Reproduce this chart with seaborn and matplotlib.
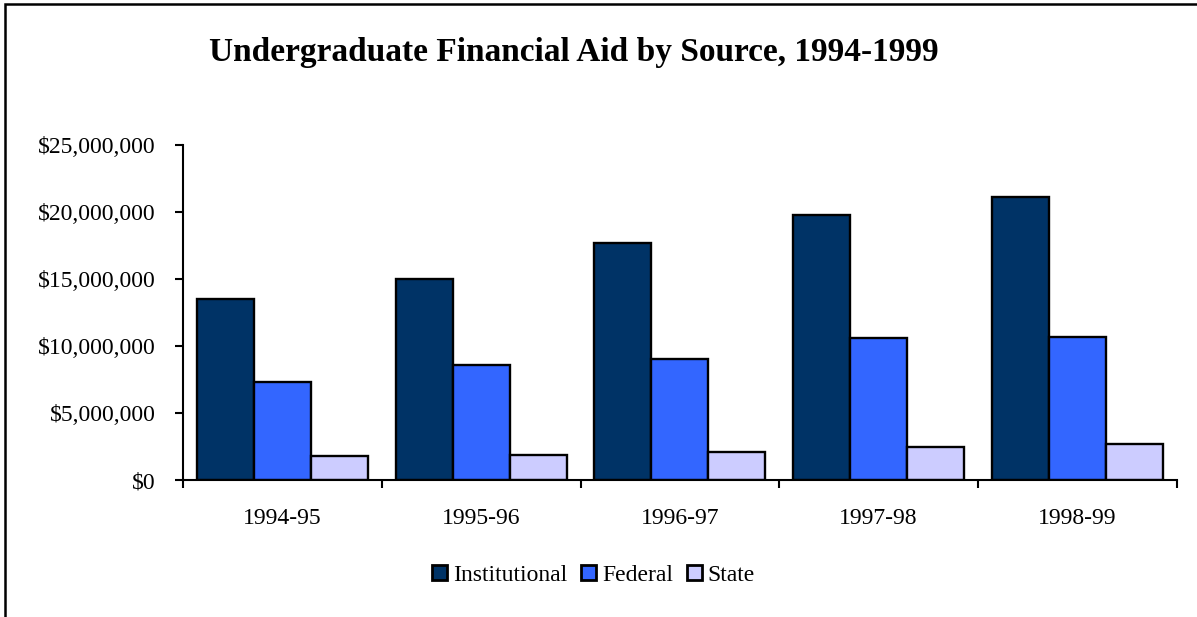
import numpy as np
import pandas as pd
import matplotlib
matplotlib.use('Agg')
import matplotlib.pyplot as plt
import seaborn as sns
from matplotlib.patches import Rectangle
from matplotlib.ticker import FuncFormatter, FixedLocator

# Values
years = ['1994-95', '1995-96', '1996-97', '1997-98', '1998-99']
institutional = [13500000, 15000000, 17650000, 19800000, 21100000]
federal = [7350000, 8580000, 9030000, 10600000, 10700000]
state = [1820000, 1890000, 2060000, 2430000, 2670000]
sources = ['Institutional', 'Federal', 'State']
colors = ['#003366', '#3366FF', '#CCCCFF']

# Long-form table for seaborn
df = pd.DataFrame({
    'year': years * 3,
    'source': [s for s in sources for _ in years],
    'amount': institutional + federal + state,
})

sns.set_style('white')
plt.rcParams['font.family'] = ['Liberation Serif', 'DejaVu Serif']
plt.rcParams['text.color'] = 'black'
plt.rcParams['xtick.color'] = 'black'
plt.rcParams['ytick.color'] = 'black'

fig = plt.figure(figsize=(11.97, 6.17), dpi=100)
ax = fig.add_axes([0.153, 0.222, 0.830, 0.543])

sns.barplot(data=df, x='year', y='amount', hue='source', hue_order=sources,
            palette=colors, width=0.86, edgecolor='black', linewidth=1.7,
            saturation=1, ax=ax, legend=True)

ax.set_ylim(0, 25000000)
ax.set_xlim(-0.5, len(years) - 0.5)
ax.yaxis.set_major_locator(FixedLocator(np.arange(0, 25000001, 5000000)))
ax.yaxis.set_major_formatter(FuncFormatter(lambda v, p: f'${v:,.0f}'))
ax.set_xlabel('')
ax.set_ylabel('')

# category ticks between groups, labels centred without marks
ax.set_xticks(np.arange(-0.5, len(years), 1.0), minor=True)
ax.tick_params(axis='x', which='major', bottom=True, length=0, labelsize=17, pad=20)
ax.tick_params(axis='x', which='minor', bottom=True, length=6, width=1.5,
               direction='out', color='black')
ax.tick_params(axis='y', left=True, length=6, width=1.5, direction='out',
               color='black', labelsize=17, pad=14)

sns.despine(ax=ax)
for side in ['left', 'bottom']:
    ax.spines[side].set_color('black')
    ax.spines[side].set_linewidth(1.5)

fig.text(0.4795, 0.915, 'Undergraduate Financial Aid by Source, 1994-1999',
         ha='center', va='center', fontsize=24, fontweight='bold')

leg = ax.legend(loc='center', bbox_to_anchor=(0.496, 0.068), bbox_transform=fig.transFigure,
                ncol=3, frameon=False, fontsize=17, handlelength=0.62, handleheight=0.62,
                handletextpad=0.25, columnspacing=0.6)
for h in leg.legend_handles:
    h.set_edgecolor('black')
    h.set_linewidth(2)

# outer chart frame (only left and top edges visible)
fig.add_artist(Rectangle((5 / 1197, -0.2), 1.5, 1.2 - 4 / 617, transform=fig.transFigure,
                         fill=False, edgecolor='black', linewidth=1.8))

fig.savefig('out.png', dpi=100)
